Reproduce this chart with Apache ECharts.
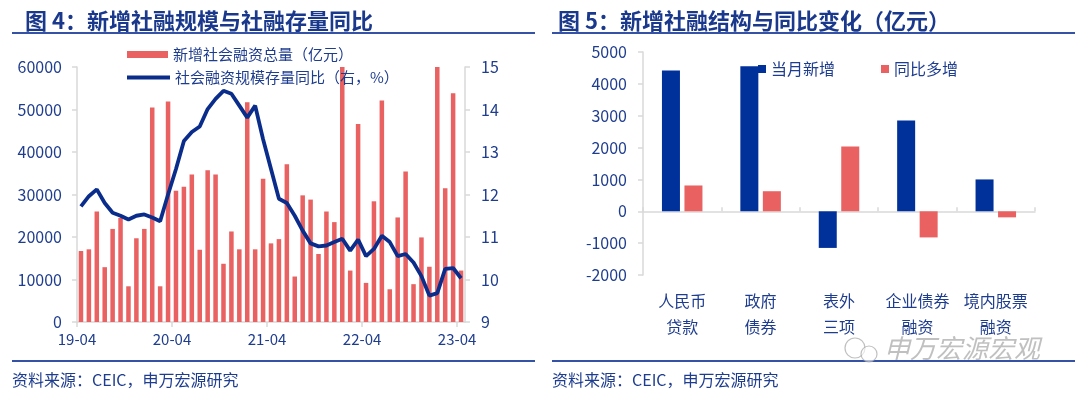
<!DOCTYPE html>
<html>
<head>
<meta charset="utf-8">
<script src="https://cdn.jsdelivr.net/npm/echarts@6/dist/echarts.min.js"></script>
<style>
  html, body { margin: 0; padding: 0; background: #fff; }
  #chart { width: 1080px; height: 399px; }
</style>
</head>
<body>
<div id="chart"></div>
<script>
// 图4 数据：月度新增社融（亿元）与社融存量同比（%）
const months = [
  '19-04','19-05','19-06','19-07','19-08','19-09','19-10','19-11','19-12',
  '20-01','20-02','20-03','20-04','20-05','20-06','20-07','20-08','20-09','20-10','20-11','20-12',
  '21-01','21-02','21-03','21-04','21-05','21-06','21-07','21-08','21-09','21-10','21-11','21-12',
  '22-01','22-02','22-03','22-04','22-05','22-06','22-07','22-08','22-09','22-10','22-11','22-12',
  '23-01','23-02','23-03','23-04'
]
const monthTickLabels = ['19-04', '20-04', '21-04', '22-04', '23-04']
const newTsf = [
  16700, 17100, 26000, 12900, 21900, 24500, 8400, 19700, 21900,
  50500, 8400, 51900, 30900, 31800, 34700, 17000, 35700, 34700, 13700, 21300, 17100,
  51700, 17100, 33700, 18500, 19500, 37100, 10700, 29800, 28800, 16000, 26000, 23500,
  60000, 12100, 46600, 9200, 28400, 52100, 7700, 24600, 35400, 8900, 19900, 13000,
  60000, 31500, 53800, 12100
]
const stockYoy = [
  11.72, 11.96, 12.12, 11.80, 11.57, 11.50, 11.41, 11.50, 11.53,
  11.46, 11.37, 12.0, 12.6, 13.26, 13.47, 13.6, 14.01, 14.25, 14.44, 14.37, 14.09,
  13.81, 14.09, 13.3, 12.6, 11.9, 11.8, 11.5, 11.15, 10.85, 10.78, 10.8, 10.88,
  10.96, 10.68, 10.94, 10.55, 10.72, 11.03, 10.88, 10.55, 10.6, 10.4, 10.08, 9.62,
  9.68, 10.25, 10.27, 10.03
]

// 图5 数据：新增社融结构与同比变化（亿元）
const structCats = ['人民币\n贷款', '政府\n债券', '表外\n三项', '企业债券\n融资', '境内股票\n融资']
const monthNew = [4420, 4550, -1150, 2850, 1000]
const yoyMore = [810, 630, 2030, -820, -190]

const FONT = '"Noto Sans CJK SC", sans-serif'
const BLUE_TXT = '#1f3d8f'
const RED = '#e96161'
const NAVY = '#0a2d8c'
const BAR_BLUE = '#00309a'
const GRAY = '#d9d9d9'
const RULE = '#3553a6'

const chart = echarts.init(document.getElementById('chart'), null, { renderer: 'canvas' })

const txt = { color: BLUE_TXT, fontFamily: FONT, fontSize: 16 }
const plain = v => String(v)  // 不要千分位

chart.setOption({
  animation: false,
  textStyle: { fontFamily: FONT },
  title: [{
    text: '图 4：新增社融规模与社融存量同比',
    left: 20, top: 5,
    textStyle: { color: '#1a398c', fontSize: 22, fontWeight: 'bold', fontFamily: FONT }
  }, {
    text: '图 5：新增社融结构与同比变化（亿元）',
    left: 553, top: 5,
    textStyle: { color: '#1a398c', fontSize: 22, fontWeight: 'bold', fontFamily: FONT }
  }],
  legend: [{
    data: ['新增社会融资总量（亿元）'],
    left: 122, top: 42,
    icon: 'rect', itemWidth: 41, itemHeight: 7,
    textStyle: { color: BLUE_TXT, fontSize: 15, fontFamily: FONT }
  }, {
    data: ['社会融资规模存量同比（右，%）'],
    left: 122, top: 65,
    icon: 'rect', itemWidth: 43, itemHeight: 4,
    textStyle: { color: BLUE_TXT, fontSize: 15, fontFamily: FONT }
  }, {
    data: ['当月新增', '同比多增'],
    left: 753, top: 56,
    icon: 'rect', itemWidth: 8, itemHeight: 8, itemGap: 46,
    textStyle: { color: BLUE_TXT, fontSize: 16, fontFamily: FONT }
  }],
  grid: [
    { left: 77, top: 67, width: 388, height: 255 },
    { left: 643, top: 52, width: 392, height: 223 }
  ],
  xAxis: [{
    type: 'category', gridIndex: 0, data: months, boundaryGap: true,
    axisLine: { lineStyle: { color: GRAY, width: 1.5 } },
    axisTick: { show: false }, axisLabel: { show: false }
  }, {
    type: 'value', gridIndex: 0, position: 'bottom', min: 0, max: 49, interval: 12,
    axisLine: { show: false },
    axisTick: { show: true, length: 5, customValues: [0, 12, 24, 36, 48], lineStyle: { color: GRAY, width: 1.5 } },
    axisLabel: {
      ...txt, fontSize: 15, margin: 10,
      customValues: [0, 12, 24, 36, 48],
      formatter: v => (v % 12 === 0 ? monthTickLabels[v / 12] || '' : '')
    },
    splitLine: { show: false }
  }, {
    type: 'category', gridIndex: 1, data: structCats,
    axisLine: { onZero: true, lineStyle: { color: GRAY, width: 1.5 } },
    axisTick: { show: true, inside: true, length: 4, lineStyle: { color: GRAY, width: 1.5 } },
    axisLabel: { show: false }
  }, {
    type: 'category', gridIndex: 1, data: structCats, position: 'bottom',
    axisLine: { show: false, onZero: false }, axisTick: { show: false },
    axisLabel: { ...txt, lineHeight: 26, margin: 13, interval: 0 }
  }],
  yAxis: [{
    type: 'value', gridIndex: 0, min: 0, max: 60000, interval: 10000,
    axisLine: { show: true, lineStyle: { color: GRAY, width: 1.5 } },
    axisTick: { show: true, length: 5, lineStyle: { color: GRAY, width: 1.5 } },
    axisLabel: { ...txt, margin: 15, formatter: plain },
    splitLine: { show: false }
  }, {
    type: 'value', gridIndex: 0, position: 'right', min: 9, max: 15, interval: 1,
    axisLine: { show: true, lineStyle: { color: GRAY, width: 1.5 } },
    axisTick: { show: true, length: 5, lineStyle: { color: GRAY, width: 1.5 } },
    axisLabel: { ...txt, margin: 16, formatter: plain },
    splitLine: { show: false }
  }, {
    type: 'value', gridIndex: 1, min: -2000, max: 5000, interval: 1000,
    axisLine: { show: true, lineStyle: { color: GRAY, width: 1.5 } },
    axisTick: { show: true, length: 5, lineStyle: { color: GRAY, width: 1.5 } },
    axisLabel: { ...txt, margin: 16, formatter: plain },
    splitLine: { show: false }
  }],
  series: [{
    name: '新增社会融资总量（亿元）', type: 'bar',
    xAxisIndex: 0, yAxisIndex: 0,
    data: newTsf, barWidth: '57%',
    itemStyle: { color: RED }
  }, {
    name: '社会融资规模存量同比（右，%）', type: 'line',
    xAxisIndex: 0, yAxisIndex: 1,
    data: stockYoy, showSymbol: false, z: 5,
    itemStyle: { color: NAVY },
    lineStyle: { color: NAVY, width: 3.8 }
  }, {
    name: '当月新增', type: 'bar',
    xAxisIndex: 2, yAxisIndex: 2,
    data: monthNew, barWidth: 18, barGap: '25%',
    itemStyle: { color: BAR_BLUE }
  }, {
    name: '同比多增', type: 'bar',
    xAxisIndex: 2, yAxisIndex: 2,
    data: yoyMore, barWidth: 18, barGap: '25%',
    itemStyle: { color: RED }
  }],
  graphic: [
    // 标题下划线与底部分隔线
    { type: 'rect', shape: { x: 12, y: 32, width: 523, height: 2 }, style: { fill: RULE }, silent: true },
    { type: 'rect', shape: { x: 552, y: 32, width: 523, height: 2 }, style: { fill: RULE }, silent: true },
    { type: 'rect', shape: { x: 12, y: 360, width: 523, height: 2 }, style: { fill: RULE }, silent: true },
    { type: 'rect', shape: { x: 552, y: 360, width: 523, height: 2 }, style: { fill: RULE }, silent: true },
    {
      type: 'text', left: 12, top: 372, silent: true,
      style: { text: '资料来源：CEIC，申万宏源研究', fill: BLUE_TXT, font: '16px ' + FONT }
    },
    {
      type: 'text', left: 552, top: 372, silent: true,
      style: { text: '资料来源：CEIC，申万宏源研究', fill: BLUE_TXT, font: '16px ' + FONT }
    },
    // 水印
    { type: 'circle', shape: { cx: 855, cy: 348, r: 10 }, style: { fill: 'rgba(255,255,255,0.6)', stroke: 'rgba(150,150,150,0.6)', lineWidth: 1.2 }, silent: true, z: 50 },
    { type: 'circle', shape: { cx: 869, cy: 354, r: 8 }, style: { fill: 'rgba(255,255,255,0.6)', stroke: 'rgba(150,150,150,0.6)', lineWidth: 1.2 }, silent: true, z: 50 },
    {
      type: 'text', left: 884, top: 335, silent: true, z: 50,
      style: { text: '申万宏源宏观', fill: 'rgba(140,140,140,0.55)', font: 'italic 26px ' + FONT }
    }
  ]
})
</script>
</body>
</html>
